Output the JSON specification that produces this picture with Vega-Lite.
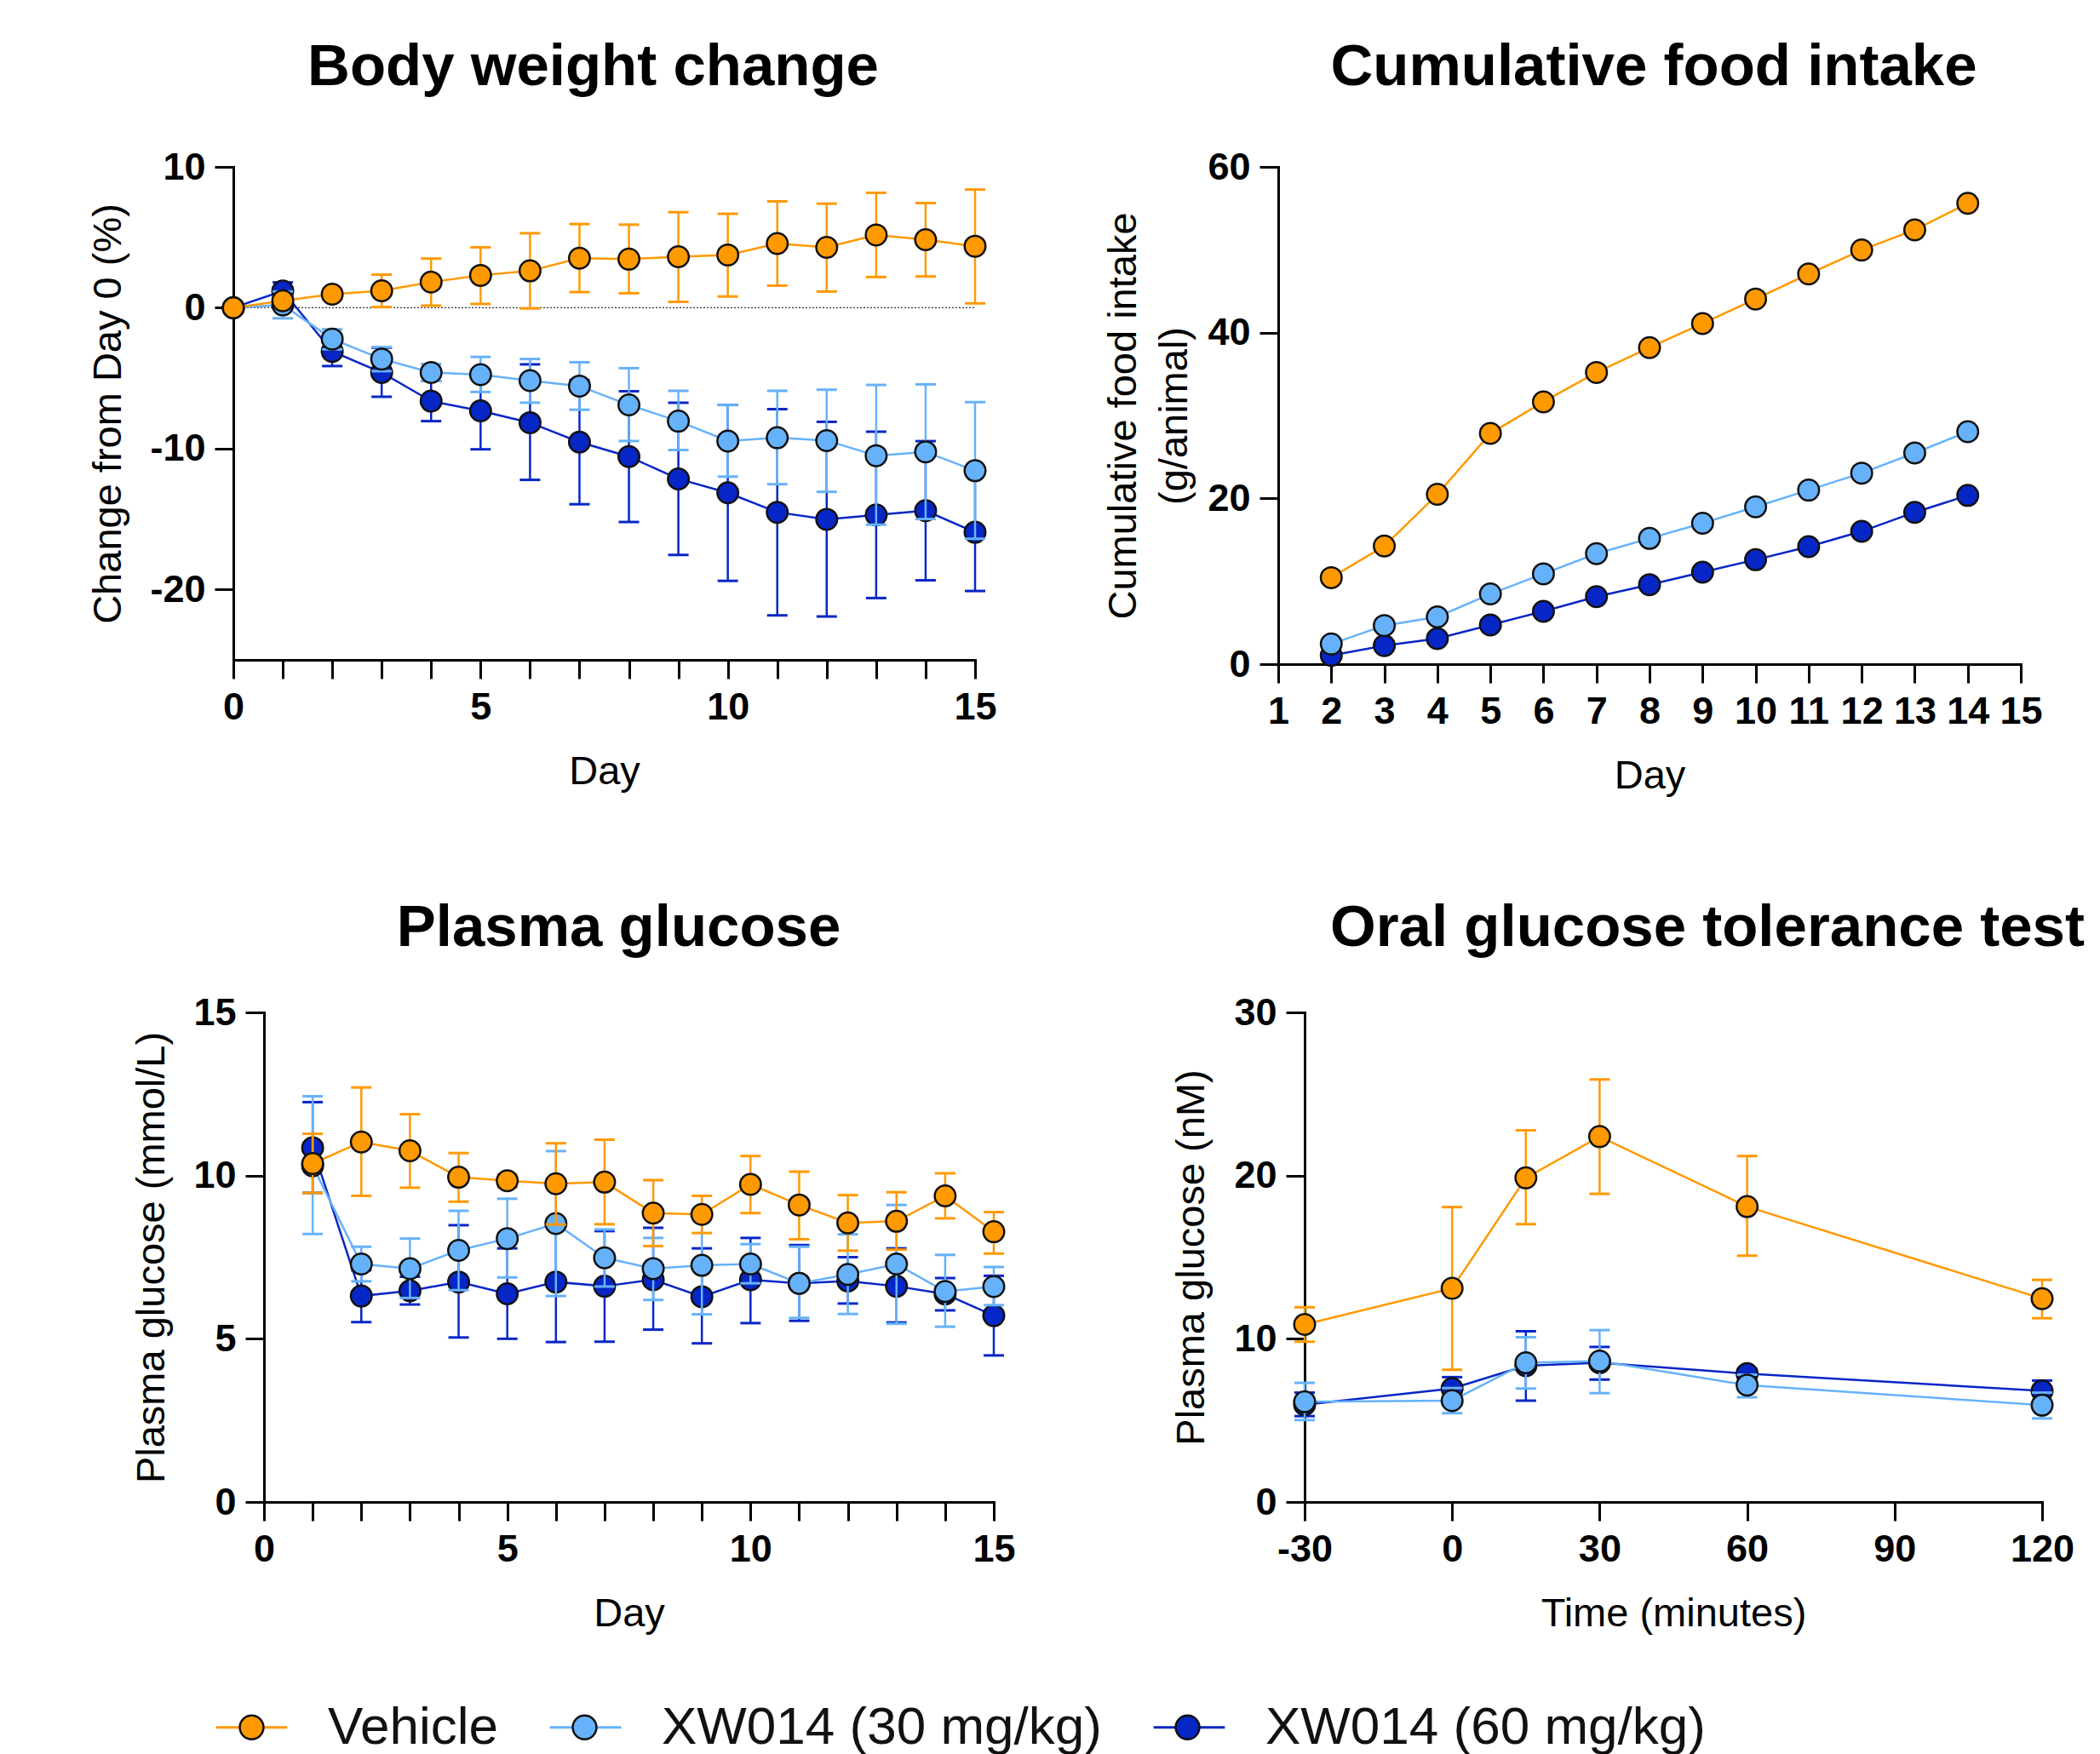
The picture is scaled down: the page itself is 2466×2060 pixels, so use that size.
{
  "$schema": "https://vega.github.io/schema/vega-lite/v6.json",
  "background": "white",
  "padding": {"left": 102, "top": 45, "right": 0, "bottom": 0},
  "config": {
    "font": "Liberation Sans",
    "view": {"stroke": null},
    "axis": {"domainColor": "#000", "domainWidth": 3, "domainCap": "square", "tickColor": "#000", "tickWidth": 3, "tickSize": 22, "labelFont": "Liberation Sans", "labelFontWeight": "bold", "labelFontSize": 45, "labelColor": "#000", "labelPadding": 11, "labelFlush": false, "labelOverlap": false, "titleFont": "Liberation Sans", "titleFontWeight": "normal", "titleFontSize": 47, "titleColor": "#000", "grid": false},
    "axisX": {"titlePadding": 30},
    "axisY": {"titlePadding": 24},
    "title": {"font": "Liberation Sans", "fontSize": 69, "fontWeight": "bold", "color": "#000", "offset": 60, "frame": "group", "anchor": "middle"}
  },
  "datasets": {
    "bw": [
      {"g": "Vehicle", "t": 0, "m": 0, "lo": null, "hi": null},
      {"g": "Vehicle", "t": 1, "m": 0.5, "lo": 0.2, "hi": 0.8},
      {"g": "Vehicle", "t": 2, "m": 0.96, "lo": 0.6, "hi": 1.35},
      {"g": "Vehicle", "t": 3, "m": 1.2, "lo": 0.05, "hi": 2.35},
      {"g": "Vehicle", "t": 4, "m": 1.82, "lo": 0.15, "hi": 3.49},
      {"g": "Vehicle", "t": 5, "m": 2.3, "lo": 0.27, "hi": 4.29},
      {"g": "Vehicle", "t": 6, "m": 2.62, "lo": -0.05, "hi": 5.29},
      {"g": "Vehicle", "t": 7, "m": 3.52, "lo": 1.11, "hi": 5.94},
      {"g": "Vehicle", "t": 8, "m": 3.45, "lo": 1.03, "hi": 5.9},
      {"g": "Vehicle", "t": 9, "m": 3.62, "lo": 0.42, "hi": 6.78},
      {"g": "Vehicle", "t": 10, "m": 3.75, "lo": 0.8, "hi": 6.67},
      {"g": "Vehicle", "t": 11, "m": 4.56, "lo": 1.57, "hi": 7.55},
      {"g": "Vehicle", "t": 12, "m": 4.29, "lo": 1.15, "hi": 7.39},
      {"g": "Vehicle", "t": 13, "m": 5.17, "lo": 2.18, "hi": 8.16},
      {"g": "Vehicle", "t": 14, "m": 4.83, "lo": 2.22, "hi": 7.43},
      {"g": "Vehicle", "t": 15, "m": 4.37, "lo": 0.31, "hi": 8.39},
      {"g": "XW014 (30 mg/kg)", "t": 0, "m": 0, "lo": null, "hi": null},
      {"g": "XW014 (30 mg/kg)", "t": 1, "m": 0.2, "lo": -0.75, "hi": 1.15},
      {"g": "XW014 (30 mg/kg)", "t": 2, "m": -2.22, "lo": -2.95, "hi": -1.53},
      {"g": "XW014 (30 mg/kg)", "t": 3, "m": -3.64, "lo": -4.5, "hi": -2.8},
      {"g": "XW014 (30 mg/kg)", "t": 4, "m": -4.6, "lo": -5.2, "hi": -4.0},
      {"g": "XW014 (30 mg/kg)", "t": 5, "m": -4.75, "lo": -5.98, "hi": -3.49},
      {"g": "XW014 (30 mg/kg)", "t": 6, "m": -5.17, "lo": -6.74, "hi": -3.64},
      {"g": "XW014 (30 mg/kg)", "t": 7, "m": -5.56, "lo": -7.24, "hi": -3.87},
      {"g": "XW014 (30 mg/kg)", "t": 8, "m": -6.9, "lo": -9.46, "hi": -4.29},
      {"g": "XW014 (30 mg/kg)", "t": 9, "m": -8.05, "lo": -10.1, "hi": -5.9},
      {"g": "XW014 (30 mg/kg)", "t": 10, "m": -9.46, "lo": -11.99, "hi": -6.9},
      {"g": "XW014 (30 mg/kg)", "t": 11, "m": -9.23, "lo": -12.53, "hi": -5.9},
      {"g": "XW014 (30 mg/kg)", "t": 12, "m": -9.43, "lo": -13.07, "hi": -5.82},
      {"g": "XW014 (30 mg/kg)", "t": 13, "m": -10.5, "lo": -15.4, "hi": -5.48},
      {"g": "XW014 (30 mg/kg)", "t": 14, "m": -10.23, "lo": -15.0, "hi": -5.44},
      {"g": "XW014 (30 mg/kg)", "t": 15, "m": -11.57, "lo": -16.4, "hi": -6.7},
      {"g": "XW014 (60 mg/kg)", "t": 0, "m": 0, "lo": null, "hi": null},
      {"g": "XW014 (60 mg/kg)", "t": 1, "m": 1.19, "lo": 0.55, "hi": 1.8},
      {"g": "XW014 (60 mg/kg)", "t": 2, "m": -3.1, "lo": -4.14, "hi": -2.05},
      {"g": "XW014 (60 mg/kg)", "t": 3, "m": -4.6, "lo": -6.32, "hi": -2.84},
      {"g": "XW014 (60 mg/kg)", "t": 4, "m": -6.63, "lo": -8.05, "hi": -5.2},
      {"g": "XW014 (60 mg/kg)", "t": 5, "m": -7.32, "lo": -10.05, "hi": -4.6},
      {"g": "XW014 (60 mg/kg)", "t": 6, "m": -8.16, "lo": -12.22, "hi": -4.02},
      {"g": "XW014 (60 mg/kg)", "t": 7, "m": -9.54, "lo": -13.95, "hi": -5.13},
      {"g": "XW014 (60 mg/kg)", "t": 8, "m": -10.57, "lo": -15.21, "hi": -5.93},
      {"g": "XW014 (60 mg/kg)", "t": 9, "m": -12.15, "lo": -17.55, "hi": -6.75},
      {"g": "XW014 (60 mg/kg)", "t": 10, "m": -13.14, "lo": -19.39, "hi": -6.9},
      {"g": "XW014 (60 mg/kg)", "t": 11, "m": -14.52, "lo": -21.84, "hi": -7.2},
      {"g": "XW014 (60 mg/kg)", "t": 12, "m": -15.02, "lo": -21.92, "hi": -8.1},
      {"g": "XW014 (60 mg/kg)", "t": 13, "m": -14.71, "lo": -20.61, "hi": -8.8},
      {"g": "XW014 (60 mg/kg)", "t": 14, "m": -14.41, "lo": -19.35, "hi": -9.47},
      {"g": "XW014 (60 mg/kg)", "t": 15, "m": -15.94, "lo": -20.11, "hi": -11.77}
    ],
    "food": [
      {"g": "Vehicle", "t": 2, "m": 10.44}, {"g": "Vehicle", "t": 3, "m": 14.25}, {"g": "Vehicle", "t": 4, "m": 20.49}, {"g": "Vehicle", "t": 5, "m": 27.84}, {"g": "Vehicle", "t": 6, "m": 31.65}, {"g": "Vehicle", "t": 7, "m": 35.2}, {"g": "Vehicle", "t": 8, "m": 38.2}, {"g": "Vehicle", "t": 9, "m": 41.1}, {"g": "Vehicle", "t": 10, "m": 44.06}, {"g": "Vehicle", "t": 11, "m": 47.08}, {"g": "Vehicle", "t": 12, "m": 49.97}, {"g": "Vehicle", "t": 13, "m": 52.4}, {"g": "Vehicle", "t": 14, "m": 55.6},
      {"g": "XW014 (30 mg/kg)", "t": 2, "m": 2.43}, {"g": "XW014 (30 mg/kg)", "t": 3, "m": 4.66}, {"g": "XW014 (30 mg/kg)", "t": 4, "m": 5.71}, {"g": "XW014 (30 mg/kg)", "t": 5, "m": 8.47}, {"g": "XW014 (30 mg/kg)", "t": 6, "m": 10.9}, {"g": "XW014 (30 mg/kg)", "t": 7, "m": 13.33}, {"g": "XW014 (30 mg/kg)", "t": 8, "m": 15.17}, {"g": "XW014 (30 mg/kg)", "t": 9, "m": 17.0}, {"g": "XW014 (30 mg/kg)", "t": 10, "m": 18.98}, {"g": "XW014 (30 mg/kg)", "t": 11, "m": 21.0}, {"g": "XW014 (30 mg/kg)", "t": 12, "m": 23.05}, {"g": "XW014 (30 mg/kg)", "t": 13, "m": 25.48}, {"g": "XW014 (30 mg/kg)", "t": 14, "m": 28.04},
      {"g": "XW014 (60 mg/kg)", "t": 2, "m": 1.05}, {"g": "XW014 (60 mg/kg)", "t": 3, "m": 2.23}, {"g": "XW014 (60 mg/kg)", "t": 4, "m": 3.09}, {"g": "XW014 (60 mg/kg)", "t": 5, "m": 4.73}, {"g": "XW014 (60 mg/kg)", "t": 6, "m": 6.37}, {"g": "XW014 (60 mg/kg)", "t": 7, "m": 8.14}, {"g": "XW014 (60 mg/kg)", "t": 8, "m": 9.59}, {"g": "XW014 (60 mg/kg)", "t": 9, "m": 11.1}, {"g": "XW014 (60 mg/kg)", "t": 10, "m": 12.6}, {"g": "XW014 (60 mg/kg)", "t": 11, "m": 14.18}, {"g": "XW014 (60 mg/kg)", "t": 12, "m": 16.02}, {"g": "XW014 (60 mg/kg)", "t": 13, "m": 18.32}, {"g": "XW014 (60 mg/kg)", "t": 14, "m": 20.36}
    ],
    "pg": [
      {"g": "Vehicle", "t": 1, "m": 10.37, "lo": 9.47, "hi": 11.28},
      {"g": "Vehicle", "t": 2, "m": 11.03, "lo": 9.38, "hi": 12.7},
      {"g": "Vehicle", "t": 3, "m": 10.76, "lo": 9.63, "hi": 11.88},
      {"g": "Vehicle", "t": 4, "m": 9.95, "lo": 9.2, "hi": 10.69},
      {"g": "Vehicle", "t": 5, "m": 9.84, "lo": 9.64, "hi": 10.04},
      {"g": "Vehicle", "t": 6, "m": 9.75, "lo": 8.5, "hi": 10.99},
      {"g": "Vehicle", "t": 7, "m": 9.8, "lo": 8.51, "hi": 11.1},
      {"g": "Vehicle", "t": 8, "m": 8.85, "lo": 7.84, "hi": 9.86},
      {"g": "Vehicle", "t": 9, "m": 8.81, "lo": 8.24, "hi": 9.38},
      {"g": "Vehicle", "t": 10, "m": 9.73, "lo": 8.85, "hi": 10.6},
      {"g": "Vehicle", "t": 11, "m": 9.1, "lo": 8.05, "hi": 10.12},
      {"g": "Vehicle", "t": 12, "m": 8.55, "lo": 7.7, "hi": 9.4},
      {"g": "Vehicle", "t": 13, "m": 8.6, "lo": 7.73, "hi": 9.49},
      {"g": "Vehicle", "t": 14, "m": 9.38, "lo": 8.69, "hi": 10.07},
      {"g": "Vehicle", "t": 15, "m": 8.28, "lo": 7.61, "hi": 8.88},
      {"g": "XW014 (30 mg/kg)", "t": 1, "m": 10.3, "lo": 8.21, "hi": 12.43},
      {"g": "XW014 (30 mg/kg)", "t": 2, "m": 7.29, "lo": 6.76, "hi": 7.82},
      {"g": "XW014 (30 mg/kg)", "t": 3, "m": 7.15, "lo": 6.25, "hi": 8.07},
      {"g": "XW014 (30 mg/kg)", "t": 4, "m": 7.71, "lo": 6.49, "hi": 8.92},
      {"g": "XW014 (30 mg/kg)", "t": 5, "m": 8.07, "lo": 6.88, "hi": 9.29},
      {"g": "XW014 (30 mg/kg)", "t": 6, "m": 8.53, "lo": 6.31, "hi": 10.75},
      {"g": "XW014 (30 mg/kg)", "t": 7, "m": 7.48, "lo": 6.6, "hi": 8.35},
      {"g": "XW014 (30 mg/kg)", "t": 8, "m": 7.15, "lo": 6.19, "hi": 8.09},
      {"g": "XW014 (30 mg/kg)", "t": 9, "m": 7.25, "lo": 5.75, "hi": 8.75},
      {"g": "XW014 (30 mg/kg)", "t": 10, "m": 7.29, "lo": 6.7, "hi": 7.9},
      {"g": "XW014 (30 mg/kg)", "t": 11, "m": 6.7, "lo": 5.64, "hi": 7.82},
      {"g": "XW014 (30 mg/kg)", "t": 12, "m": 6.97, "lo": 5.76, "hi": 8.2},
      {"g": "XW014 (30 mg/kg)", "t": 13, "m": 7.29, "lo": 5.46, "hi": 9.1},
      {"g": "XW014 (30 mg/kg)", "t": 14, "m": 6.45, "lo": 5.37, "hi": 7.57},
      {"g": "XW014 (30 mg/kg)", "t": 15, "m": 6.6, "lo": 6.03, "hi": 7.2},
      {"g": "XW014 (60 mg/kg)", "t": 1, "m": 10.85, "lo": 9.47, "hi": 12.25},
      {"g": "XW014 (60 mg/kg)", "t": 2, "m": 6.31, "lo": 5.51, "hi": 7.1},
      {"g": "XW014 (60 mg/kg)", "t": 3, "m": 6.47, "lo": 6.05, "hi": 6.9},
      {"g": "XW014 (60 mg/kg)", "t": 4, "m": 6.74, "lo": 5.04, "hi": 8.48},
      {"g": "XW014 (60 mg/kg)", "t": 5, "m": 6.38, "lo": 5.0, "hi": 7.77},
      {"g": "XW014 (60 mg/kg)", "t": 6, "m": 6.74, "lo": 4.9, "hi": 8.58},
      {"g": "XW014 (60 mg/kg)", "t": 7, "m": 6.61, "lo": 4.91, "hi": 8.3},
      {"g": "XW014 (60 mg/kg)", "t": 8, "m": 6.81, "lo": 5.28, "hi": 8.4},
      {"g": "XW014 (60 mg/kg)", "t": 9, "m": 6.29, "lo": 4.86, "hi": 7.77},
      {"g": "XW014 (60 mg/kg)", "t": 10, "m": 6.81, "lo": 5.48, "hi": 8.09},
      {"g": "XW014 (60 mg/kg)", "t": 11, "m": 6.7, "lo": 5.55, "hi": 7.87},
      {"g": "XW014 (60 mg/kg)", "t": 12, "m": 6.77, "lo": 6.08, "hi": 7.5},
      {"g": "XW014 (60 mg/kg)", "t": 13, "m": 6.61, "lo": 5.5, "hi": 7.77},
      {"g": "XW014 (60 mg/kg)", "t": 14, "m": 6.37, "lo": 5.87, "hi": 6.86},
      {"g": "XW014 (60 mg/kg)", "t": 15, "m": 5.71, "lo": 4.49, "hi": 6.93}
    ],
    "ogtt": [
      {"g": "Vehicle", "t": -30, "m": 10.88, "lo": 9.82, "hi": 11.93},
      {"g": "Vehicle", "t": 0, "m": 13.09, "lo": 8.1, "hi": 18.07},
      {"g": "Vehicle", "t": 15, "m": 19.86, "lo": 17.02, "hi": 22.77},
      {"g": "Vehicle", "t": 30, "m": 22.39, "lo": 18.88, "hi": 25.89},
      {"g": "Vehicle", "t": 60, "m": 18.1, "lo": 15.09, "hi": 21.19},
      {"g": "Vehicle", "t": 120, "m": 12.46, "lo": 11.26, "hi": 13.61},
      {"g": "XW014 (30 mg/kg)", "t": -30, "m": 6.14, "lo": 5.02, "hi": 7.3},
      {"g": "XW014 (30 mg/kg)", "t": 0, "m": 6.21, "lo": 5.44, "hi": 6.98},
      {"g": "XW014 (30 mg/kg)", "t": 15, "m": 8.53, "lo": 6.95, "hi": 10.1},
      {"g": "XW014 (30 mg/kg)", "t": 30, "m": 8.63, "lo": 6.67, "hi": 10.53},
      {"g": "XW014 (30 mg/kg)", "t": 60, "m": 7.16, "lo": 6.42, "hi": 7.8},
      {"g": "XW014 (30 mg/kg)", "t": 120, "m": 5.93, "lo": 5.12, "hi": 6.7},
      {"g": "XW014 (60 mg/kg)", "t": -30, "m": 5.96, "lo": 5.26, "hi": 6.7},
      {"g": "XW014 (60 mg/kg)", "t": 0, "m": 6.95, "lo": 6.25, "hi": 7.65},
      {"g": "XW014 (60 mg/kg)", "t": 15, "m": 8.35, "lo": 6.21, "hi": 10.46},
      {"g": "XW014 (60 mg/kg)", "t": 30, "m": 8.53, "lo": 7.5, "hi": 9.5},
      {"g": "XW014 (60 mg/kg)", "t": 60, "m": 7.86, "lo": 7.56, "hi": 8.16},
      {"g": "XW014 (60 mg/kg)", "t": 120, "m": 6.81, "lo": 6.2, "hi": 7.44}
    ]
  },
  "spacing": 122,
  "vconcat": [
    {
      "spacing": 0,
      "hconcat": [
        {"width": 1, "height": 1, "data": {"values": [{"s": 0}]}, "mark": {"type": "rect", "opacity": 0}, "encoding": {}},
        {
          "spacing": 124,
          "hconcat": [
            {
              "width": 871, "height": 579,
              "title": {"text": "Body weight change", "dx": -13},
              "data": {"name": "bw"},
              "encoding": {
                "x": {"field": "t", "type": "quantitative", "scale": {"domain": [0, 15], "nice": false, "zero": false}, "axis": {"title": "Day", "values": [0,1,2,3,4,5,6,7,8,9,10,11,12,13,14,15], "labelExpr": "datum.value % 5 === 0 ? datum.label : ''"}},
                "y": {"field": "m", "type": "quantitative", "scale": {"domain": [-25, 10], "nice": false, "zero": false}, "axis": {"title": "Change from Day 0 (%)", "values": [-20, -10, 0, 10], "labelExpr": "'' + datum.value", "titlePadding": 24}}
              },
              "layer": [
                {"data": {"values": [{"t": 0, "z": 0}, {"t": 15, "z": 0}]}, "mark": {"type": "line", "stroke": "#333333", "strokeWidth": 1.2, "strokeDash": [2, 2]}, "encoding": {"y": {"field": "z", "type": "quantitative", "scale": {"domain": [-25, 10], "nice": false, "zero": false}}}},
                {"transform": [{"filter": {"field": "g", "equal": "XW014 (60 mg/kg)"}}], "layer": [
                  {"mark": {"type": "rule", "color": "#0726C6", "strokeWidth": 2.5}, "encoding": {"y": {"field": "lo", "type": "quantitative", "scale": {"domain": [-25, 10], "nice": false, "zero": false}}, "y2": {"field": "hi"}}},
                  {"mark": {"type": "tick", "orient": "horizontal", "color": "#0726C6", "size": 24, "thickness": 3, "opacity": 1}, "encoding": {"y": {"field": "lo", "type": "quantitative", "scale": {"domain": [-25, 10], "nice": false, "zero": false}}}},
                  {"mark": {"type": "tick", "orient": "horizontal", "color": "#0726C6", "size": 24, "thickness": 3, "opacity": 1}, "encoding": {"y": {"field": "hi", "type": "quantitative", "scale": {"domain": [-25, 10], "nice": false, "zero": false}}}},
                  {"mark": {"type": "line", "strokeWidth": 2.5}, "encoding": {"stroke": {"field": "g", "type": "nominal", "scale": {"domain": ["Vehicle", "XW014 (30 mg/kg)", "XW014 (60 mg/kg)"], "range": ["#FF9900", "#66B2FA", "#0726C6"]}, "legend": {"title": null, "orient": "none", "legendX": 161, "legendY": 1800, "direction": "horizontal", "symbolType": "M-1.35,0L1.35,0", "symbolSize": 3844, "symbolStrokeWidth": 3, "labelFontSize": 62, "labelFont": "Liberation Sans", "labelColor": "#111", "labelOffset": 57, "columnPadding": 54, "padding": 0, "labelLimit": 2000}}}},
                  {"mark": {"type": "circle", "size": 600, "opacity": 1, "stroke": "#111", "strokeWidth": 2.5}, "encoding": {"fill": {"field": "g", "type": "nominal", "scale": {"domain": ["Vehicle", "XW014 (30 mg/kg)", "XW014 (60 mg/kg)", "-"], "range": ["#FF9900", "#66B2FA", "#0726C6", "#ffffff"]}, "legend": {"title": null, "orient": "none", "legendX": 161, "legendY": 1800, "direction": "horizontal", "values": ["Vehicle", "XW014 (30 mg/kg)", "XW014 (60 mg/kg)"], "symbolType": "M-1.35,0L-1.35,0M1.35,0L1.35,0M0.45,0A0.45,0.45,0,1,1,-0.45,0A0.45,0.45,0,1,1,0.45,0Z", "symbolSize": 3844, "symbolStrokeColor": "#111", "symbolStrokeWidth": 2.5, "symbolOpacity": 1, "labelFontSize": 62, "labelFont": "Liberation Sans", "labelColor": "#111", "labelOpacity": 0, "labelOffset": 57, "columnPadding": 54, "padding": 0, "labelLimit": 2000}}}}
                ]},
                {"transform": [{"filter": {"field": "g", "equal": "XW014 (30 mg/kg)"}}], "layer": [
                  {"mark": {"type": "rule", "color": "#66B2FA", "strokeWidth": 2.5}, "encoding": {"y": {"field": "lo", "type": "quantitative", "scale": {"domain": [-25, 10], "nice": false, "zero": false}}, "y2": {"field": "hi"}}},
                  {"mark": {"type": "tick", "orient": "horizontal", "color": "#66B2FA", "size": 24, "thickness": 3, "opacity": 1}, "encoding": {"y": {"field": "lo", "type": "quantitative", "scale": {"domain": [-25, 10], "nice": false, "zero": false}}}},
                  {"mark": {"type": "tick", "orient": "horizontal", "color": "#66B2FA", "size": 24, "thickness": 3, "opacity": 1}, "encoding": {"y": {"field": "hi", "type": "quantitative", "scale": {"domain": [-25, 10], "nice": false, "zero": false}}}},
                  {"mark": {"type": "line", "strokeWidth": 2.5}, "encoding": {"stroke": {"field": "g", "type": "nominal", "scale": {"domain": ["Vehicle", "XW014 (30 mg/kg)", "XW014 (60 mg/kg)"], "range": ["#FF9900", "#66B2FA", "#0726C6"]}, "legend": {"title": null, "orient": "none", "legendX": 161, "legendY": 1800, "direction": "horizontal", "symbolType": "M-1.35,0L1.35,0", "symbolSize": 3844, "symbolStrokeWidth": 3, "labelFontSize": 62, "labelFont": "Liberation Sans", "labelColor": "#111", "labelOffset": 57, "columnPadding": 54, "padding": 0, "labelLimit": 2000}}}},
                  {"mark": {"type": "circle", "size": 600, "opacity": 1, "stroke": "#111", "strokeWidth": 2.5}, "encoding": {"fill": {"field": "g", "type": "nominal", "scale": {"domain": ["Vehicle", "XW014 (30 mg/kg)", "XW014 (60 mg/kg)", "-"], "range": ["#FF9900", "#66B2FA", "#0726C6", "#ffffff"]}, "legend": {"title": null, "orient": "none", "legendX": 161, "legendY": 1800, "direction": "horizontal", "values": ["Vehicle", "XW014 (30 mg/kg)", "XW014 (60 mg/kg)"], "symbolType": "M-1.35,0L-1.35,0M1.35,0L1.35,0M0.45,0A0.45,0.45,0,1,1,-0.45,0A0.45,0.45,0,1,1,0.45,0Z", "symbolSize": 3844, "symbolStrokeColor": "#111", "symbolStrokeWidth": 2.5, "symbolOpacity": 1, "labelFontSize": 62, "labelFont": "Liberation Sans", "labelColor": "#111", "labelOpacity": 0, "labelOffset": 57, "columnPadding": 54, "padding": 0, "labelLimit": 2000}}}}
                ]},
                {"transform": [{"filter": {"field": "g", "equal": "Vehicle"}}], "layer": [
                  {"mark": {"type": "rule", "color": "#FF9900", "strokeWidth": 2.5}, "encoding": {"y": {"field": "lo", "type": "quantitative", "scale": {"domain": [-25, 10], "nice": false, "zero": false}}, "y2": {"field": "hi"}}},
                  {"mark": {"type": "tick", "orient": "horizontal", "color": "#FF9900", "size": 24, "thickness": 3, "opacity": 1}, "encoding": {"y": {"field": "lo", "type": "quantitative", "scale": {"domain": [-25, 10], "nice": false, "zero": false}}}},
                  {"mark": {"type": "tick", "orient": "horizontal", "color": "#FF9900", "size": 24, "thickness": 3, "opacity": 1}, "encoding": {"y": {"field": "hi", "type": "quantitative", "scale": {"domain": [-25, 10], "nice": false, "zero": false}}}},
                  {"mark": {"type": "line", "strokeWidth": 2.5}, "encoding": {"stroke": {"field": "g", "type": "nominal", "scale": {"domain": ["Vehicle", "XW014 (30 mg/kg)", "XW014 (60 mg/kg)"], "range": ["#FF9900", "#66B2FA", "#0726C6"]}, "legend": {"title": null, "orient": "none", "legendX": 161, "legendY": 1800, "direction": "horizontal", "symbolType": "M-1.35,0L1.35,0", "symbolSize": 3844, "symbolStrokeWidth": 3, "labelFontSize": 62, "labelFont": "Liberation Sans", "labelColor": "#111", "labelOffset": 57, "columnPadding": 54, "padding": 0, "labelLimit": 2000}}}},
                  {"mark": {"type": "circle", "size": 600, "opacity": 1, "stroke": "#111", "strokeWidth": 2.5}, "encoding": {"fill": {"field": "g", "type": "nominal", "scale": {"domain": ["Vehicle", "XW014 (30 mg/kg)", "XW014 (60 mg/kg)", "-"], "range": ["#FF9900", "#66B2FA", "#0726C6", "#ffffff"]}, "legend": {"title": null, "orient": "none", "legendX": 161, "legendY": 1800, "direction": "horizontal", "values": ["Vehicle", "XW014 (30 mg/kg)", "XW014 (60 mg/kg)"], "symbolType": "M-1.35,0L-1.35,0M1.35,0L1.35,0M0.45,0A0.45,0.45,0,1,1,-0.45,0A0.45,0.45,0,1,1,0.45,0Z", "symbolSize": 3844, "symbolStrokeColor": "#111", "symbolStrokeWidth": 2.5, "symbolOpacity": 1, "labelFontSize": 62, "labelFont": "Liberation Sans", "labelColor": "#111", "labelOpacity": 0, "labelOffset": 57, "columnPadding": 54, "padding": 0, "labelLimit": 2000}}}}
                ]}
              ]
            },
            {
              "width": 872, "height": 584,
              "title": {"text": "Cumulative food intake", "dx": 5},
              "data": {"name": "food"},
              "encoding": {
                "x": {"field": "t", "type": "quantitative", "scale": {"domain": [1, 15], "nice": false, "zero": false}, "axis": {"title": "Day", "values": [1,2,3,4,5,6,7,8,9,10,11,12,13,14,15]}},
                "y": {"field": "m", "type": "quantitative", "scale": {"domain": [0, 60], "nice": false}, "axis": {"title": ["Cumulative food intake", "(g/animal)"], "titleLineHeight": 60, "values": [0, 20, 40, 60], "titlePadding": 14}}
              },
              "layer": [
                {"transform": [{"filter": {"field": "g", "equal": "XW014 (60 mg/kg)"}}], "layer": [
                  {"mark": {"type": "line", "strokeWidth": 2.5}, "encoding": {"stroke": {"field": "g", "type": "nominal", "scale": {"domain": ["Vehicle", "XW014 (30 mg/kg)", "XW014 (60 mg/kg)"], "range": ["#FF9900", "#66B2FA", "#0726C6"]}, "legend": {"title": null, "orient": "none", "legendX": 161, "legendY": 1800, "direction": "horizontal", "symbolType": "M-1.35,0L1.35,0", "symbolSize": 3844, "symbolStrokeWidth": 3, "labelFontSize": 62, "labelFont": "Liberation Sans", "labelColor": "#111", "labelOffset": 57, "columnPadding": 54, "padding": 0, "labelLimit": 2000}}}},
                  {"mark": {"type": "circle", "size": 600, "opacity": 1, "stroke": "#111", "strokeWidth": 2.5}, "encoding": {"fill": {"field": "g", "type": "nominal", "scale": {"domain": ["Vehicle", "XW014 (30 mg/kg)", "XW014 (60 mg/kg)", "-"], "range": ["#FF9900", "#66B2FA", "#0726C6", "#ffffff"]}, "legend": {"title": null, "orient": "none", "legendX": 161, "legendY": 1800, "direction": "horizontal", "values": ["Vehicle", "XW014 (30 mg/kg)", "XW014 (60 mg/kg)"], "symbolType": "M-1.35,0L-1.35,0M1.35,0L1.35,0M0.45,0A0.45,0.45,0,1,1,-0.45,0A0.45,0.45,0,1,1,0.45,0Z", "symbolSize": 3844, "symbolStrokeColor": "#111", "symbolStrokeWidth": 2.5, "symbolOpacity": 1, "labelFontSize": 62, "labelFont": "Liberation Sans", "labelColor": "#111", "labelOpacity": 0, "labelOffset": 57, "columnPadding": 54, "padding": 0, "labelLimit": 2000}}}}
                ]},
                {"transform": [{"filter": {"field": "g", "equal": "XW014 (30 mg/kg)"}}], "layer": [
                  {"mark": {"type": "line", "strokeWidth": 2.5}, "encoding": {"stroke": {"field": "g", "type": "nominal", "scale": {"domain": ["Vehicle", "XW014 (30 mg/kg)", "XW014 (60 mg/kg)"], "range": ["#FF9900", "#66B2FA", "#0726C6"]}, "legend": {"title": null, "orient": "none", "legendX": 161, "legendY": 1800, "direction": "horizontal", "symbolType": "M-1.35,0L1.35,0", "symbolSize": 3844, "symbolStrokeWidth": 3, "labelFontSize": 62, "labelFont": "Liberation Sans", "labelColor": "#111", "labelOffset": 57, "columnPadding": 54, "padding": 0, "labelLimit": 2000}}}},
                  {"mark": {"type": "circle", "size": 600, "opacity": 1, "stroke": "#111", "strokeWidth": 2.5}, "encoding": {"fill": {"field": "g", "type": "nominal", "scale": {"domain": ["Vehicle", "XW014 (30 mg/kg)", "XW014 (60 mg/kg)", "-"], "range": ["#FF9900", "#66B2FA", "#0726C6", "#ffffff"]}, "legend": {"title": null, "orient": "none", "legendX": 161, "legendY": 1800, "direction": "horizontal", "values": ["Vehicle", "XW014 (30 mg/kg)", "XW014 (60 mg/kg)"], "symbolType": "M-1.35,0L-1.35,0M1.35,0L1.35,0M0.45,0A0.45,0.45,0,1,1,-0.45,0A0.45,0.45,0,1,1,0.45,0Z", "symbolSize": 3844, "symbolStrokeColor": "#111", "symbolStrokeWidth": 2.5, "symbolOpacity": 1, "labelFontSize": 62, "labelFont": "Liberation Sans", "labelColor": "#111", "labelOpacity": 0, "labelOffset": 57, "columnPadding": 54, "padding": 0, "labelLimit": 2000}}}}
                ]},
                {"transform": [{"filter": {"field": "g", "equal": "Vehicle"}}], "layer": [
                  {"mark": {"type": "line", "strokeWidth": 2.5}, "encoding": {"stroke": {"field": "g", "type": "nominal", "scale": {"domain": ["Vehicle", "XW014 (30 mg/kg)", "XW014 (60 mg/kg)"], "range": ["#FF9900", "#66B2FA", "#0726C6"]}, "legend": {"title": null, "orient": "none", "legendX": 161, "legendY": 1800, "direction": "horizontal", "symbolType": "M-1.35,0L1.35,0", "symbolSize": 3844, "symbolStrokeWidth": 3, "labelFontSize": 62, "labelFont": "Liberation Sans", "labelColor": "#111", "labelOffset": 57, "columnPadding": 54, "padding": 0, "labelLimit": 2000}}}},
                  {"mark": {"type": "circle", "size": 600, "opacity": 1, "stroke": "#111", "strokeWidth": 2.5}, "encoding": {"fill": {"field": "g", "type": "nominal", "scale": {"domain": ["Vehicle", "XW014 (30 mg/kg)", "XW014 (60 mg/kg)", "-"], "range": ["#FF9900", "#66B2FA", "#0726C6", "#ffffff"]}, "legend": {"title": null, "orient": "none", "legendX": 161, "legendY": 1800, "direction": "horizontal", "values": ["Vehicle", "XW014 (30 mg/kg)", "XW014 (60 mg/kg)"], "symbolType": "M-1.35,0L-1.35,0M1.35,0L1.35,0M0.45,0A0.45,0.45,0,1,1,-0.45,0A0.45,0.45,0,1,1,0.45,0Z", "symbolSize": 3844, "symbolStrokeColor": "#111", "symbolStrokeWidth": 2.5, "symbolOpacity": 1, "labelFontSize": 62, "labelFont": "Liberation Sans", "labelColor": "#111", "labelOpacity": 0, "labelOffset": 57, "columnPadding": 54, "padding": 0, "labelLimit": 2000}}}}
                ]}
              ]
            }
          ]
        }
      ]
    },
    {
      "spacing": 0,
      "hconcat": [
        {"width": 1, "height": 1, "data": {"values": [{"s": 0}]}, "mark": {"type": "rect", "opacity": 0}, "encoding": {}},
        {
          "spacing": 182,
          "hconcat": [
            {
              "width": 857, "height": 575,
              "title": {"text": "Plasma glucose", "dx": -12, "offset": 42},
              "data": {"name": "pg"},
              "encoding": {
                "x": {"field": "t", "type": "quantitative", "scale": {"domain": [0, 15], "nice": false, "zero": false}, "axis": {"title": "Day", "values": [0,1,2,3,4,5,6,7,8,9,10,11,12,13,14,15], "labelExpr": "datum.value % 5 === 0 ? datum.label : ''"}},
                "y": {"field": "m", "type": "quantitative", "scale": {"domain": [0, 15], "nice": false}, "axis": {"title": ["", "Plasma glucose (mmol/L)"], "titleLineHeight": 51, "values": [0, 5, 10, 15], "titlePadding": 24}}
              },
              "layer": [
                {"transform": [{"filter": {"field": "g", "equal": "XW014 (60 mg/kg)"}}], "layer": [
                  {"mark": {"type": "rule", "color": "#0726C6", "strokeWidth": 2.5}, "encoding": {"y": {"field": "lo", "type": "quantitative", "scale": {"domain": [0, 15], "nice": false}}, "y2": {"field": "hi"}}},
                  {"mark": {"type": "tick", "orient": "horizontal", "color": "#0726C6", "size": 24, "thickness": 3, "opacity": 1}, "encoding": {"y": {"field": "lo", "type": "quantitative", "scale": {"domain": [0, 15], "nice": false}}}},
                  {"mark": {"type": "tick", "orient": "horizontal", "color": "#0726C6", "size": 24, "thickness": 3, "opacity": 1}, "encoding": {"y": {"field": "hi", "type": "quantitative", "scale": {"domain": [0, 15], "nice": false}}}},
                  {"mark": {"type": "line", "strokeWidth": 2.5}, "encoding": {"stroke": {"field": "g", "type": "nominal", "scale": {"domain": ["Vehicle", "XW014 (30 mg/kg)", "XW014 (60 mg/kg)"], "range": ["#FF9900", "#66B2FA", "#0726C6"]}, "legend": {"title": null, "orient": "none", "legendX": 161, "legendY": 1800, "direction": "horizontal", "symbolType": "M-1.35,0L1.35,0", "symbolSize": 3844, "symbolStrokeWidth": 3, "labelFontSize": 62, "labelFont": "Liberation Sans", "labelColor": "#111", "labelOffset": 57, "columnPadding": 54, "padding": 0, "labelLimit": 2000}}}},
                  {"mark": {"type": "circle", "size": 600, "opacity": 1, "stroke": "#111", "strokeWidth": 2.5}, "encoding": {"fill": {"field": "g", "type": "nominal", "scale": {"domain": ["Vehicle", "XW014 (30 mg/kg)", "XW014 (60 mg/kg)", "-"], "range": ["#FF9900", "#66B2FA", "#0726C6", "#ffffff"]}, "legend": {"title": null, "orient": "none", "legendX": 161, "legendY": 1800, "direction": "horizontal", "values": ["Vehicle", "XW014 (30 mg/kg)", "XW014 (60 mg/kg)"], "symbolType": "M-1.35,0L-1.35,0M1.35,0L1.35,0M0.45,0A0.45,0.45,0,1,1,-0.45,0A0.45,0.45,0,1,1,0.45,0Z", "symbolSize": 3844, "symbolStrokeColor": "#111", "symbolStrokeWidth": 2.5, "symbolOpacity": 1, "labelFontSize": 62, "labelFont": "Liberation Sans", "labelColor": "#111", "labelOpacity": 0, "labelOffset": 57, "columnPadding": 54, "padding": 0, "labelLimit": 2000}}}}
                ]},
                {"transform": [{"filter": {"field": "g", "equal": "XW014 (30 mg/kg)"}}], "layer": [
                  {"mark": {"type": "rule", "color": "#66B2FA", "strokeWidth": 2.5}, "encoding": {"y": {"field": "lo", "type": "quantitative", "scale": {"domain": [0, 15], "nice": false}}, "y2": {"field": "hi"}}},
                  {"mark": {"type": "tick", "orient": "horizontal", "color": "#66B2FA", "size": 24, "thickness": 3, "opacity": 1}, "encoding": {"y": {"field": "lo", "type": "quantitative", "scale": {"domain": [0, 15], "nice": false}}}},
                  {"mark": {"type": "tick", "orient": "horizontal", "color": "#66B2FA", "size": 24, "thickness": 3, "opacity": 1}, "encoding": {"y": {"field": "hi", "type": "quantitative", "scale": {"domain": [0, 15], "nice": false}}}},
                  {"mark": {"type": "line", "strokeWidth": 2.5}, "encoding": {"stroke": {"field": "g", "type": "nominal", "scale": {"domain": ["Vehicle", "XW014 (30 mg/kg)", "XW014 (60 mg/kg)"], "range": ["#FF9900", "#66B2FA", "#0726C6"]}, "legend": {"title": null, "orient": "none", "legendX": 161, "legendY": 1800, "direction": "horizontal", "symbolType": "M-1.35,0L1.35,0", "symbolSize": 3844, "symbolStrokeWidth": 3, "labelFontSize": 62, "labelFont": "Liberation Sans", "labelColor": "#111", "labelOffset": 57, "columnPadding": 54, "padding": 0, "labelLimit": 2000}}}},
                  {"mark": {"type": "circle", "size": 600, "opacity": 1, "stroke": "#111", "strokeWidth": 2.5}, "encoding": {"fill": {"field": "g", "type": "nominal", "scale": {"domain": ["Vehicle", "XW014 (30 mg/kg)", "XW014 (60 mg/kg)", "-"], "range": ["#FF9900", "#66B2FA", "#0726C6", "#ffffff"]}, "legend": {"title": null, "orient": "none", "legendX": 161, "legendY": 1800, "direction": "horizontal", "values": ["Vehicle", "XW014 (30 mg/kg)", "XW014 (60 mg/kg)"], "symbolType": "M-1.35,0L-1.35,0M1.35,0L1.35,0M0.45,0A0.45,0.45,0,1,1,-0.45,0A0.45,0.45,0,1,1,0.45,0Z", "symbolSize": 3844, "symbolStrokeColor": "#111", "symbolStrokeWidth": 2.5, "symbolOpacity": 1, "labelFontSize": 62, "labelFont": "Liberation Sans", "labelColor": "#111", "labelOpacity": 0, "labelOffset": 57, "columnPadding": 54, "padding": 0, "labelLimit": 2000}}}}
                ]},
                {"transform": [{"filter": {"field": "g", "equal": "Vehicle"}}], "layer": [
                  {"mark": {"type": "rule", "color": "#FF9900", "strokeWidth": 2.5}, "encoding": {"y": {"field": "lo", "type": "quantitative", "scale": {"domain": [0, 15], "nice": false}}, "y2": {"field": "hi"}}},
                  {"mark": {"type": "tick", "orient": "horizontal", "color": "#FF9900", "size": 24, "thickness": 3, "opacity": 1}, "encoding": {"y": {"field": "lo", "type": "quantitative", "scale": {"domain": [0, 15], "nice": false}}}},
                  {"mark": {"type": "tick", "orient": "horizontal", "color": "#FF9900", "size": 24, "thickness": 3, "opacity": 1}, "encoding": {"y": {"field": "hi", "type": "quantitative", "scale": {"domain": [0, 15], "nice": false}}}},
                  {"mark": {"type": "line", "strokeWidth": 2.5}, "encoding": {"stroke": {"field": "g", "type": "nominal", "scale": {"domain": ["Vehicle", "XW014 (30 mg/kg)", "XW014 (60 mg/kg)"], "range": ["#FF9900", "#66B2FA", "#0726C6"]}, "legend": {"title": null, "orient": "none", "legendX": 161, "legendY": 1800, "direction": "horizontal", "symbolType": "M-1.35,0L1.35,0", "symbolSize": 3844, "symbolStrokeWidth": 3, "labelFontSize": 62, "labelFont": "Liberation Sans", "labelColor": "#111", "labelOffset": 57, "columnPadding": 54, "padding": 0, "labelLimit": 2000}}}},
                  {"mark": {"type": "circle", "size": 600, "opacity": 1, "stroke": "#111", "strokeWidth": 2.5}, "encoding": {"fill": {"field": "g", "type": "nominal", "scale": {"domain": ["Vehicle", "XW014 (30 mg/kg)", "XW014 (60 mg/kg)", "-"], "range": ["#FF9900", "#66B2FA", "#0726C6", "#ffffff"]}, "legend": {"title": null, "orient": "none", "legendX": 161, "legendY": 1800, "direction": "horizontal", "values": ["Vehicle", "XW014 (30 mg/kg)", "XW014 (60 mg/kg)"], "symbolType": "M-1.35,0L-1.35,0M1.35,0L1.35,0M0.45,0A0.45,0.45,0,1,1,-0.45,0A0.45,0.45,0,1,1,0.45,0Z", "symbolSize": 3844, "symbolStrokeColor": "#111", "symbolStrokeWidth": 2.5, "symbolOpacity": 1, "labelFontSize": 62, "labelFont": "Liberation Sans", "labelColor": "#111", "labelOpacity": 0, "labelOffset": 57, "columnPadding": 54, "padding": 0, "labelLimit": 2000}}}}
                ]}
              ]
            },
            {
              "width": 866, "height": 575,
              "title": {"text": "Oral glucose tolerance test", "dx": 40, "offset": 42},
              "data": {"name": "ogtt"},
              "encoding": {
                "x": {"field": "t", "type": "quantitative", "scale": {"domain": [-30, 120], "nice": false, "zero": false}, "axis": {"title": "Time (minutes)", "values": [-30, 0, 30, 60, 90, 120], "labelExpr": "'' + datum.value"}},
                "y": {"field": "m", "type": "quantitative", "scale": {"domain": [0, 30], "nice": false}, "axis": {"title": "Plasma glucose (nM)", "values": [0, 10, 20, 30], "titlePadding": 25}}
              },
              "layer": [
                {"transform": [{"filter": {"field": "g", "equal": "XW014 (60 mg/kg)"}}], "layer": [
                  {"mark": {"type": "rule", "color": "#0726C6", "strokeWidth": 2.5}, "encoding": {"y": {"field": "lo", "type": "quantitative", "scale": {"domain": [0, 30], "nice": false}}, "y2": {"field": "hi"}}},
                  {"mark": {"type": "tick", "orient": "horizontal", "color": "#0726C6", "size": 24, "thickness": 3, "opacity": 1}, "encoding": {"y": {"field": "lo", "type": "quantitative", "scale": {"domain": [0, 30], "nice": false}}}},
                  {"mark": {"type": "tick", "orient": "horizontal", "color": "#0726C6", "size": 24, "thickness": 3, "opacity": 1}, "encoding": {"y": {"field": "hi", "type": "quantitative", "scale": {"domain": [0, 30], "nice": false}}}},
                  {"mark": {"type": "line", "strokeWidth": 2.5}, "encoding": {"stroke": {"field": "g", "type": "nominal", "scale": {"domain": ["Vehicle", "XW014 (30 mg/kg)", "XW014 (60 mg/kg)"], "range": ["#FF9900", "#66B2FA", "#0726C6"]}, "legend": {"title": null, "orient": "none", "legendX": 161, "legendY": 1800, "direction": "horizontal", "symbolType": "M-1.35,0L1.35,0", "symbolSize": 3844, "symbolStrokeWidth": 3, "labelFontSize": 62, "labelFont": "Liberation Sans", "labelColor": "#111", "labelOffset": 57, "columnPadding": 54, "padding": 0, "labelLimit": 2000}}}},
                  {"mark": {"type": "circle", "size": 600, "opacity": 1, "stroke": "#111", "strokeWidth": 2.5}, "encoding": {"fill": {"field": "g", "type": "nominal", "scale": {"domain": ["Vehicle", "XW014 (30 mg/kg)", "XW014 (60 mg/kg)", "-"], "range": ["#FF9900", "#66B2FA", "#0726C6", "#ffffff"]}, "legend": {"title": null, "orient": "none", "legendX": 161, "legendY": 1800, "direction": "horizontal", "values": ["Vehicle", "XW014 (30 mg/kg)", "XW014 (60 mg/kg)"], "symbolType": "M-1.35,0L-1.35,0M1.35,0L1.35,0M0.45,0A0.45,0.45,0,1,1,-0.45,0A0.45,0.45,0,1,1,0.45,0Z", "symbolSize": 3844, "symbolStrokeColor": "#111", "symbolStrokeWidth": 2.5, "symbolOpacity": 1, "labelFontSize": 62, "labelFont": "Liberation Sans", "labelColor": "#111", "labelOpacity": 0, "labelOffset": 57, "columnPadding": 54, "padding": 0, "labelLimit": 2000}}}}
                ]},
                {"transform": [{"filter": {"field": "g", "equal": "XW014 (30 mg/kg)"}}], "layer": [
                  {"mark": {"type": "rule", "color": "#66B2FA", "strokeWidth": 2.5}, "encoding": {"y": {"field": "lo", "type": "quantitative", "scale": {"domain": [0, 30], "nice": false}}, "y2": {"field": "hi"}}},
                  {"mark": {"type": "tick", "orient": "horizontal", "color": "#66B2FA", "size": 24, "thickness": 3, "opacity": 1}, "encoding": {"y": {"field": "lo", "type": "quantitative", "scale": {"domain": [0, 30], "nice": false}}}},
                  {"mark": {"type": "tick", "orient": "horizontal", "color": "#66B2FA", "size": 24, "thickness": 3, "opacity": 1}, "encoding": {"y": {"field": "hi", "type": "quantitative", "scale": {"domain": [0, 30], "nice": false}}}},
                  {"mark": {"type": "line", "strokeWidth": 2.5}, "encoding": {"stroke": {"field": "g", "type": "nominal", "scale": {"domain": ["Vehicle", "XW014 (30 mg/kg)", "XW014 (60 mg/kg)"], "range": ["#FF9900", "#66B2FA", "#0726C6"]}, "legend": {"title": null, "orient": "none", "legendX": 161, "legendY": 1800, "direction": "horizontal", "symbolType": "M-1.35,0L1.35,0", "symbolSize": 3844, "symbolStrokeWidth": 3, "labelFontSize": 62, "labelFont": "Liberation Sans", "labelColor": "#111", "labelOffset": 57, "columnPadding": 54, "padding": 0, "labelLimit": 2000}}}},
                  {"mark": {"type": "circle", "size": 600, "opacity": 1, "stroke": "#111", "strokeWidth": 2.5}, "encoding": {"fill": {"field": "g", "type": "nominal", "scale": {"domain": ["Vehicle", "XW014 (30 mg/kg)", "XW014 (60 mg/kg)", "-"], "range": ["#FF9900", "#66B2FA", "#0726C6", "#ffffff"]}, "legend": {"title": null, "orient": "none", "legendX": 161, "legendY": 1800, "direction": "horizontal", "values": ["Vehicle", "XW014 (30 mg/kg)", "XW014 (60 mg/kg)"], "symbolType": "M-1.35,0L-1.35,0M1.35,0L1.35,0M0.45,0A0.45,0.45,0,1,1,-0.45,0A0.45,0.45,0,1,1,0.45,0Z", "symbolSize": 3844, "symbolStrokeColor": "#111", "symbolStrokeWidth": 2.5, "symbolOpacity": 1, "labelFontSize": 62, "labelFont": "Liberation Sans", "labelColor": "#111", "labelOpacity": 0, "labelOffset": 57, "columnPadding": 54, "padding": 0, "labelLimit": 2000}}}}
                ]},
                {"transform": [{"filter": {"field": "g", "equal": "Vehicle"}}], "layer": [
                  {"mark": {"type": "rule", "color": "#FF9900", "strokeWidth": 2.5}, "encoding": {"y": {"field": "lo", "type": "quantitative", "scale": {"domain": [0, 30], "nice": false}}, "y2": {"field": "hi"}}},
                  {"mark": {"type": "tick", "orient": "horizontal", "color": "#FF9900", "size": 24, "thickness": 3, "opacity": 1}, "encoding": {"y": {"field": "lo", "type": "quantitative", "scale": {"domain": [0, 30], "nice": false}}}},
                  {"mark": {"type": "tick", "orient": "horizontal", "color": "#FF9900", "size": 24, "thickness": 3, "opacity": 1}, "encoding": {"y": {"field": "hi", "type": "quantitative", "scale": {"domain": [0, 30], "nice": false}}}},
                  {"mark": {"type": "line", "strokeWidth": 2.5}, "encoding": {"stroke": {"field": "g", "type": "nominal", "scale": {"domain": ["Vehicle", "XW014 (30 mg/kg)", "XW014 (60 mg/kg)"], "range": ["#FF9900", "#66B2FA", "#0726C6"]}, "legend": {"title": null, "orient": "none", "legendX": 161, "legendY": 1800, "direction": "horizontal", "symbolType": "M-1.35,0L1.35,0", "symbolSize": 3844, "symbolStrokeWidth": 3, "labelFontSize": 62, "labelFont": "Liberation Sans", "labelColor": "#111", "labelOffset": 57, "columnPadding": 54, "padding": 0, "labelLimit": 2000}}}},
                  {"mark": {"type": "circle", "size": 600, "opacity": 1, "stroke": "#111", "strokeWidth": 2.5}, "encoding": {"fill": {"field": "g", "type": "nominal", "scale": {"domain": ["Vehicle", "XW014 (30 mg/kg)", "XW014 (60 mg/kg)", "-"], "range": ["#FF9900", "#66B2FA", "#0726C6", "#ffffff"]}, "legend": {"title": null, "orient": "none", "legendX": 161, "legendY": 1800, "direction": "horizontal", "values": ["Vehicle", "XW014 (30 mg/kg)", "XW014 (60 mg/kg)"], "symbolType": "M-1.35,0L-1.35,0M1.35,0L1.35,0M0.45,0A0.45,0.45,0,1,1,-0.45,0A0.45,0.45,0,1,1,0.45,0Z", "symbolSize": 3844, "symbolStrokeColor": "#111", "symbolStrokeWidth": 2.5, "symbolOpacity": 1, "labelFontSize": 62, "labelFont": "Liberation Sans", "labelColor": "#111", "labelOpacity": 0, "labelOffset": 57, "columnPadding": 54, "padding": 0, "labelLimit": 2000}}}}
                ]}
              ]
            }
          ]
        }
      ]
    }
  ]
}
